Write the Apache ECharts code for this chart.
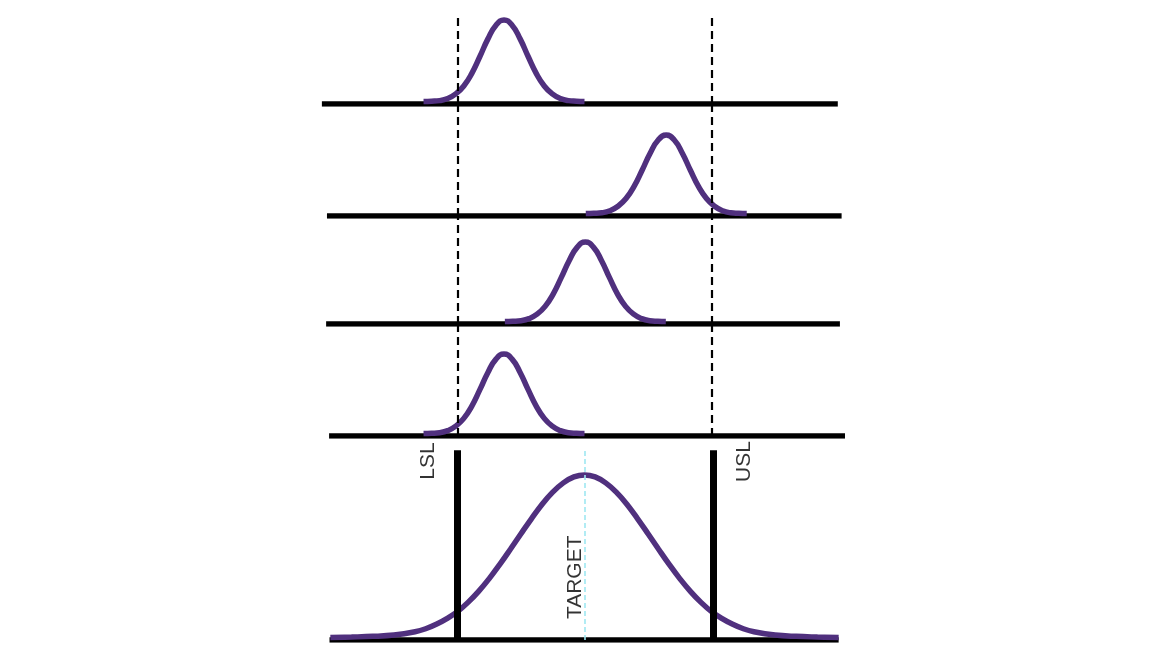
<!DOCTYPE html>
<html>
<head>
<meta charset="utf-8">
<script src="https://cdn.jsdelivr.net/npm/echarts@6/dist/echarts.min.js"></script>
<style>
  html, body { margin: 0; padding: 0; background: #fff; }
  #chart { width: 1170px; height: 658px; }
</style>
</head>
<body>
<div id="chart"></div>
<script>
// spec limits and target (process units)
const LSL = -3;
const USL = 3;
const TARGET = 0;

// centre of the narrow distribution in each of the four upper panels
const shiftMeans = [-1.9, 1.93, 0.02, -1.9];

// extent of each panel's base line
const baseStart = [-6.2, -6.08, -6.1, -6.03, -6.02];
const baseEnd = [5.98, 6.07, 6.03, 6.15, 6.0];

// narrow curve, read as offsets from its centre / relative height
const narrowOffsets = [-1.9, -1.71, -1.52, -1.33, -1.14, -0.95, -0.76, -0.57, -0.38, -0.19, 0,
  0.19, 0.38, 0.57, 0.76, 0.95, 1.14, 1.33, 1.52, 1.71, 1.9];
const narrowHeights = [0.03, 0.033, 0.04, 0.065, 0.12, 0.215, 0.365, 0.565, 0.775, 0.938, 1,
  0.938, 0.775, 0.565, 0.365, 0.215, 0.12, 0.065, 0.04, 0.033, 0.03];

// wide curve in the bottom panel
const wideX = [-6, -5.5, -5, -4.5, -4, -3.75, -3.5, -3.25, -3, -2.75, -2.5, -2.25, -2, -1.75, -1.5,
  -1.25, -1, -0.75, -0.5, -0.25, 0, 0.25, 0.5, 0.75, 1, 1.25, 1.5, 1.75, 2, 2.25, 2.5, 2.75, 3,
  3.25, 3.5, 3.75, 4, 4.5, 5, 5.5, 6];
const wideHeights = [0.015, 0.018, 0.022, 0.03, 0.05, 0.068, 0.095, 0.13, 0.172, 0.228, 0.295,
  0.372, 0.458, 0.55, 0.644, 0.736, 0.823, 0.896, 0.952, 0.988, 1, 0.988, 0.952, 0.896, 0.823,
  0.736, 0.644, 0.55, 0.458, 0.372, 0.295, 0.228, 0.172, 0.13, 0.095, 0.068, 0.05, 0.03, 0.022,
  0.018, 0.015];

const limitLabels = ['LSL', 'USL', 'TARGET'];

const PURPLE = '#50307e';

// layout of the five stacked panels
const panels = [
  { top: 14, height: 90, yMax: 1.071 },
  { top: 104, height: 112, yMax: 1.383 },
  { top: 216, height: 108, yMax: 1.317 },
  { top: 324, height: 112, yMax: 1.366 },
  { top: 436, height: 204, yMax: 1.236 },
];
const limitTop = 1.15;

const grid = panels.map(p => ({ left: 288, width: 593, top: p.top, height: p.height }));
const xAxis = panels.map((p, i) => ({ type: 'value', gridIndex: i, min: -7, max: 7, show: false }));
const yAxis = panels.map((p, i) => ({ type: 'value', gridIndex: i, min: 0, max: p.yMax, show: false }));

const series = [];

panels.forEach((p, i) => {
  series.push({
    type: 'line',
    xAxisIndex: i,
    yAxisIndex: i,
    data: [[baseStart[i], 0], [baseEnd[i], 0]],
    symbol: 'none',
    lineStyle: { color: '#000', width: 5.5 },
    z: 2,
    silent: true,
  });
});

shiftMeans.forEach((m, i) => {
  series.push({
    type: 'line',
    xAxisIndex: i,
    yAxisIndex: i,
    data: narrowOffsets.map((d, k) => [m + d, narrowHeights[k]]),
    smooth: true,
    symbol: 'none',
    lineStyle: { color: PURPLE, width: 5.5 },
    z: 3,
    silent: true,
  });
  // dashed spec limits running through the upper panels
  series.push({
    type: 'line',
    xAxisIndex: i,
    yAxisIndex: i,
    data: [],
    z: 4,
    markLine: {
      silent: true,
      symbol: ['none', 'none'],
      label: { show: false },
      lineStyle: { color: '#000', width: 2.2, type: [8, 5] },
      data: [
        [{ coord: [LSL, 0] }, { coord: [LSL, panels[i].yMax] }],
        [{ coord: [USL, 0] }, { coord: [USL, panels[i].yMax] }],
      ],
    },
  });
});

// bottom panel: limits, target and the wide distribution
series.push({
  type: 'line',
  xAxisIndex: 4,
  yAxisIndex: 4,
  data: [],
  z: 2,
  markLine: {
    silent: true,
    symbol: ['none', 'none'],
    label: { show: false },
    data: [
      [{ coord: [LSL, 0], lineStyle: { color: '#000', width: 7, type: 'solid' } }, { coord: [LSL, limitTop] }],
      [{ coord: [USL + 0.04, 0], lineStyle: { color: '#000', width: 7, type: 'solid' } }, { coord: [USL + 0.04, limitTop] }],
      [{ coord: [TARGET, 0], lineStyle: { color: '#9fe8f2', width: 1.6, type: [5, 3] } }, { coord: [TARGET, limitTop] }],
    ],
  },
});

series.push({
  type: 'line',
  xAxisIndex: 4,
  yAxisIndex: 4,
  data: wideX.map((x, k) => [x, wideHeights[k]]),
  smooth: 0.4,
  symbol: 'none',
  lineStyle: { color: PURPLE, width: 5.5 },
  z: 3,
  silent: true,
});

series.push({
  type: 'scatter',
  xAxisIndex: 4,
  yAxisIndex: 4,
  symbolSize: 1,
  itemStyle: { color: 'transparent' },
  silent: true,
  z: 5,
  label: {
    show: true,
    position: 'inside',
    rotate: 90,
    formatter: '{b}',
    color: '#000',
    fontSize: 21,
    fontFamily: 'Liberation Sans',
  },
  data: [
    { name: limitLabels[0], value: [-3.68, 1.084] },
    { name: limitLabels[1], value: [3.76, 1.081] },
    { name: limitLabels[2], value: [-0.22, 0.38] },
  ],
});

const chart = echarts.init(document.getElementById('chart'));
chart.setOption({
  animation: false,
  backgroundColor: '#fff',
  grid,
  xAxis,
  yAxis,
  series,
});
</script>
</body>
</html>
